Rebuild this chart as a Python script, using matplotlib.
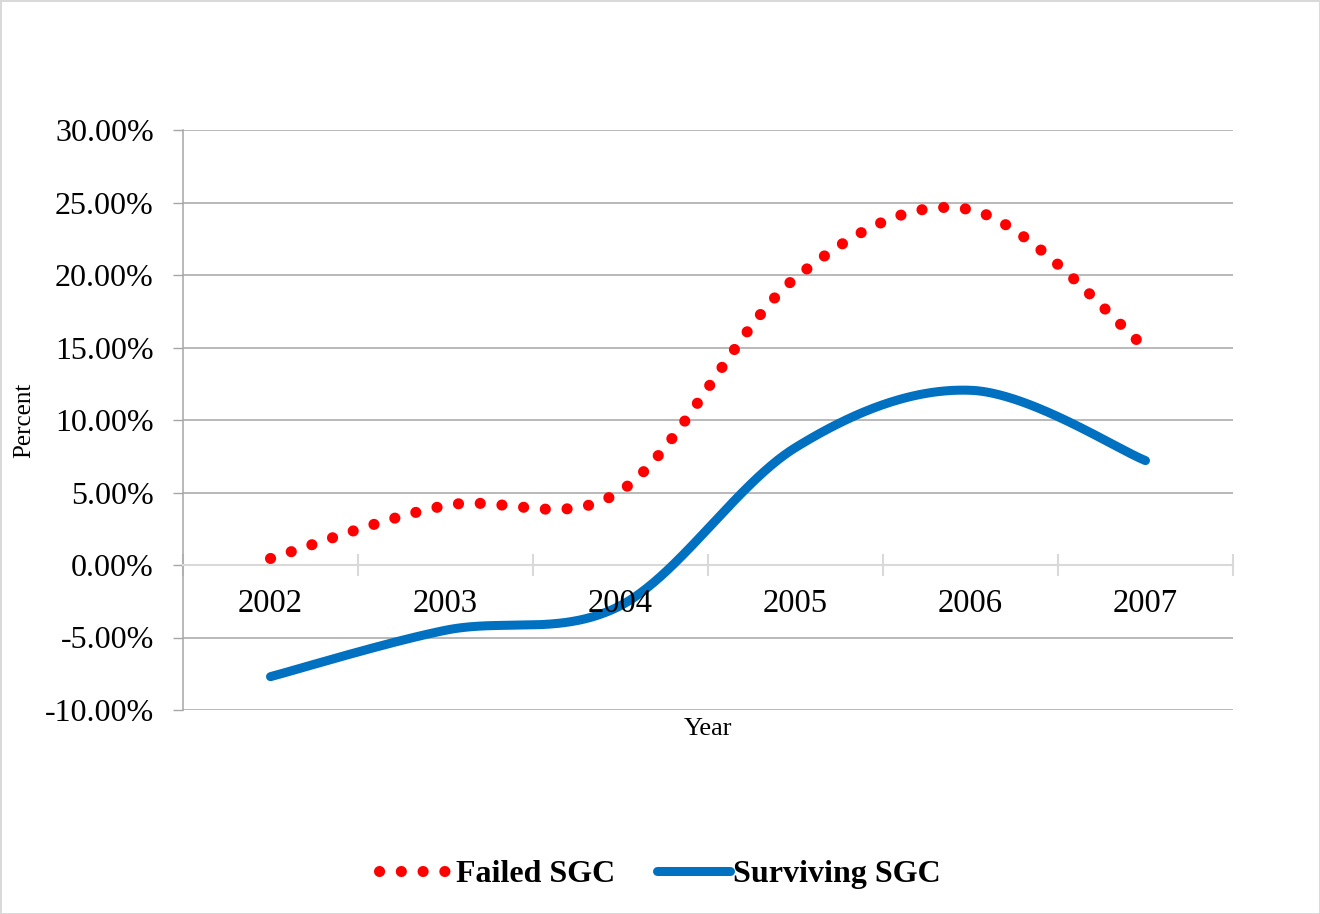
import numpy as np
import matplotlib
matplotlib.use("Agg")
import matplotlib.pyplot as plt
from matplotlib.ticker import PercentFormatter, FixedLocator

plt.rcParams['font.family'] = ['Liberation Serif', 'DejaVu Serif']
plt.rcParams['axes.unicode_minus'] = False

years = ['2002', '2003', '2004', '2005', '2006', '2007']
failed = [0.0045, 0.041, 0.051, 0.198, 0.245, 0.150]
surviving = [-0.077, -0.045, -0.028, 0.081, 0.1205, 0.072]


def smooth(xs, ys, n=80):
    # Bezier smoothing through the points (spreadsheet-style smoothed line)
    pts = np.column_stack([xs, ys]).astype(float)
    pad = np.vstack([pts[0], pts, pts[-1]])
    t = np.linspace(0, 1, n)[:, None]
    out = []
    for i in range(len(pts) - 1):
        p0, p1, p2, p3 = pad[i:i + 4]
        c1 = p1 + (p2 - p0) / 6
        c2 = p2 - (p3 - p1) / 6
        seg = ((1 - t) ** 3) * p1 + 3 * ((1 - t) ** 2) * t * c1 \
            + 3 * (1 - t) * t ** 2 * c2 + t ** 3 * p2
        out.append(seg if i == 0 else seg[1:])
    out = np.vstack(out)
    return out[:, 0], out[:, 1]


x = np.arange(len(years))

fig = plt.figure(figsize=(13.2, 9.14), dpi=100)
fig.patch.set_edgecolor('#D9D9D9')
fig.patch.set_linewidth(2)
ax = fig.add_axes([183 / 1320, 1 - 710 / 914, 1050 / 1320, 580 / 914])

fx, fy = smooth(x, failed)
sx, sy = smooth(x, surviving)
ax.plot(fx, fy, color='#FF0000', lw=8, linestyle=(0, (0.01, 1.95)),
        dash_capstyle='round', label='Failed SGC', zorder=3)
ax.plot(sx, sy, color='#0070C0', lw=6.5, solid_capstyle='round',
        label='Surviving SGC', zorder=3)

ax.set_xlim(-0.5, len(years) - 0.5)
ax.set_ylim(-0.10, 0.30)
yt = np.arange(-0.10, 0.301, 0.05)
ax.set_yticks(yt)
ax.yaxis.set_major_formatter(PercentFormatter(1.0, decimals=2))
ax.tick_params(axis='y', labelsize=23, length=7, width=1, color='#A6A6A6', pad=14)

# horizontal gridlines (the zero line is the category axis)
for v in yt:
    if abs(v) > 1e-9:
        ax.axhline(v, color='#A6A6A6', lw=1.1, zorder=1)

for s in ['top', 'right']:
    ax.spines[s].set_visible(False)
ax.spines['left'].set_color('#A6A6A6')
ax.spines['left'].set_linewidth(1.1)
ax.spines['bottom'].set_position(('data', 0))
ax.spines['bottom'].set_color('#D9D9D9')
ax.spines['bottom'].set_linewidth(1.5)

ax.xaxis.set_major_locator(FixedLocator(np.arange(-0.5, len(years), 1.0)))
ax.tick_params(axis='x', direction='inout', length=16, width=1.5,
               color='#D9D9D9', labelbottom=False)
for i, yr in enumerate(years):
    ax.annotate(yr, (i, 0), xytext=(0, -28), textcoords='offset points',
                ha='center', va='center', fontsize=23.5)

ax.set_xlabel('Year', fontsize=19)
ax.xaxis.set_label_coords(0.5, -0.013)
fig.text(24 / 1320, 1 - 420 / 914, 'Percent', rotation=90, fontsize=18,
         ha='center', va='center')

fig.legend(loc='center', bbox_to_anchor=(0.5, 1 - 874 / 914), ncol=2, frameon=False,
           prop={'size': 23, 'weight': 'bold'}, handlelength=2.3,
           handletextpad=0.1, columnspacing=1.3)

fig.savefig('out.png', dpi=100)
